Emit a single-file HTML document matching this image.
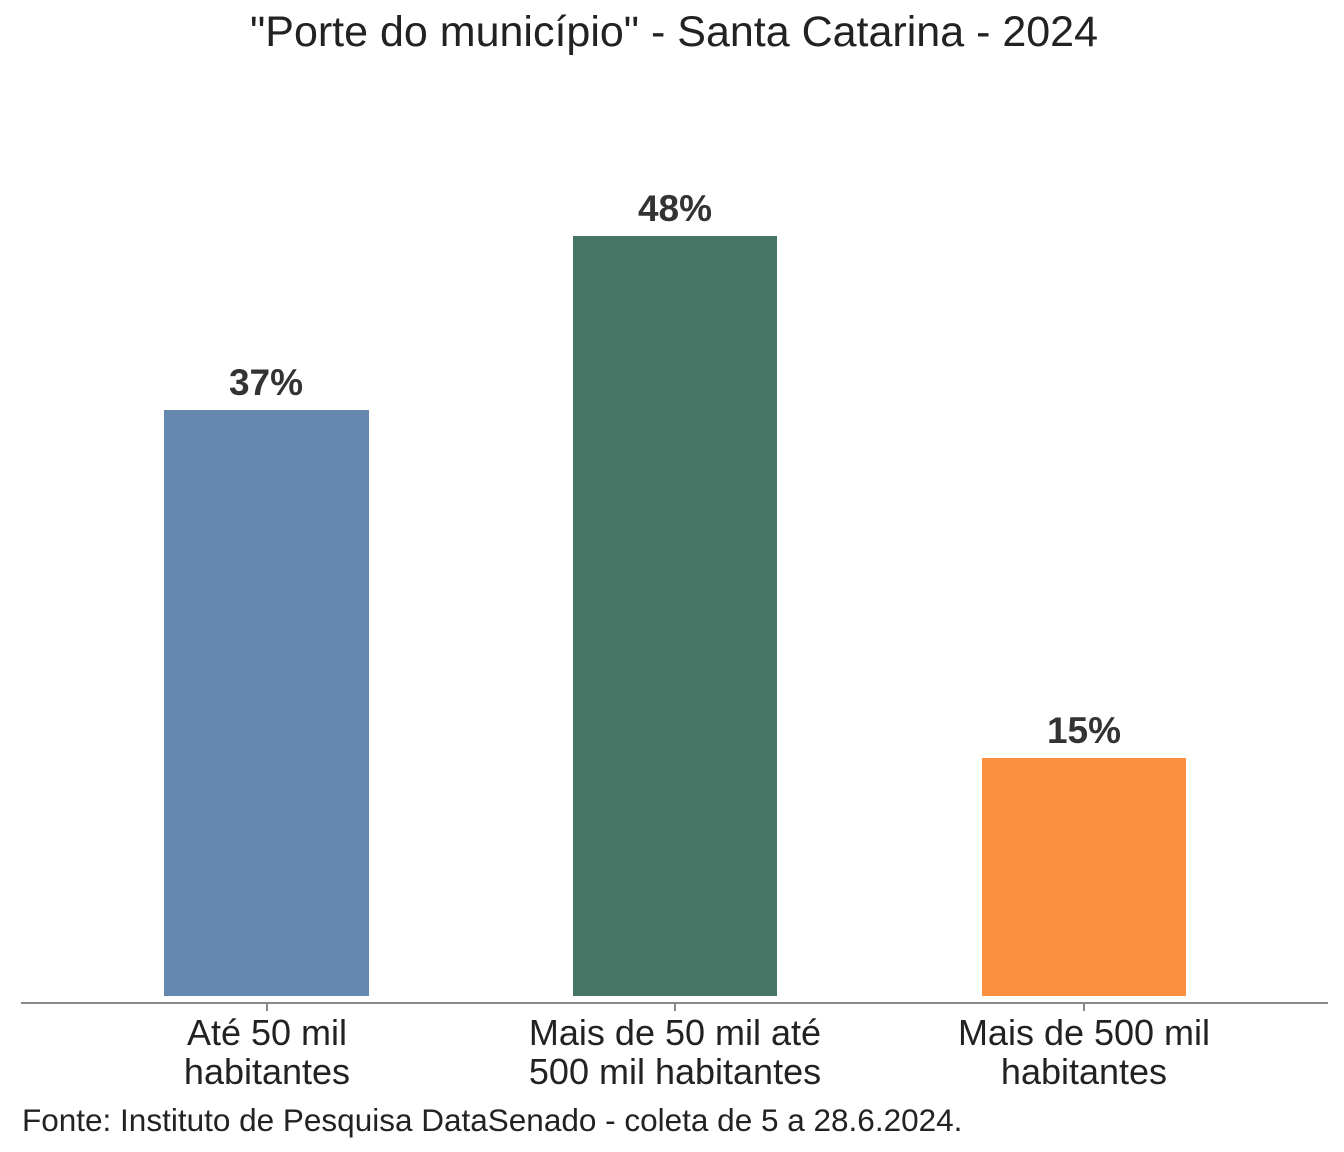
<!DOCTYPE html>
<html><head><meta charset="utf-8"><style>
body{margin:0;width:1344px;height:1152px;background:#fff;position:relative;overflow:hidden;font-family:"Liberation Sans",Arial,sans-serif;color:#333}
.a{position:absolute}
.bar{position:absolute}
.lbl{position:absolute;font-weight:bold;font-size:37px;text-align:center;width:300px;color:#333}
.x{position:absolute;font-size:36px;text-align:center;width:400px;line-height:39px;color:#222}
.t{position:absolute;top:1004px;width:2px;height:7px;background:#888}
</style></head><body>
<div class="a" style="top:8px;left:0;width:1348px;text-align:center;font-size:43px;color:#222">"Porte do município" - Santa Catarina - 2024</div>
<div class="bar" style="left:164px;top:410px;width:205px;height:586px;background:#6588b0"></div>
<div class="bar" style="left:573px;top:236px;width:204px;height:760px;background:#457565"></div>
<div class="bar" style="left:982px;top:758px;width:204px;height:238px;background:#fb913e"></div>
<div class="lbl" style="left:116px;top:362px">37%</div>
<div class="lbl" style="left:525px;top:188px">48%</div>
<div class="lbl" style="left:934px;top:710px">15%</div>
<div class="a" style="left:21px;top:1002px;width:1307px;height:2px;background:#888"></div>
<div class="t" style="left:266px"></div><div class="t" style="left:674px"></div><div class="t" style="left:1083px"></div>
<div class="x" style="left:67px;top:1013px">Até 50 mil<br>habitantes</div>
<div class="x" style="left:475px;top:1013px">Mais de 50 mil até<br>500 mil habitantes</div>
<div class="x" style="left:884px;top:1013px">Mais de 500 mil<br>habitantes</div>
<div class="a" style="left:22px;top:1102px;font-size:31.5px;color:#222">Fonte: Instituto de Pesquisa DataSenado - coleta de 5 a 28.6.2024.</div>
</body></html>
